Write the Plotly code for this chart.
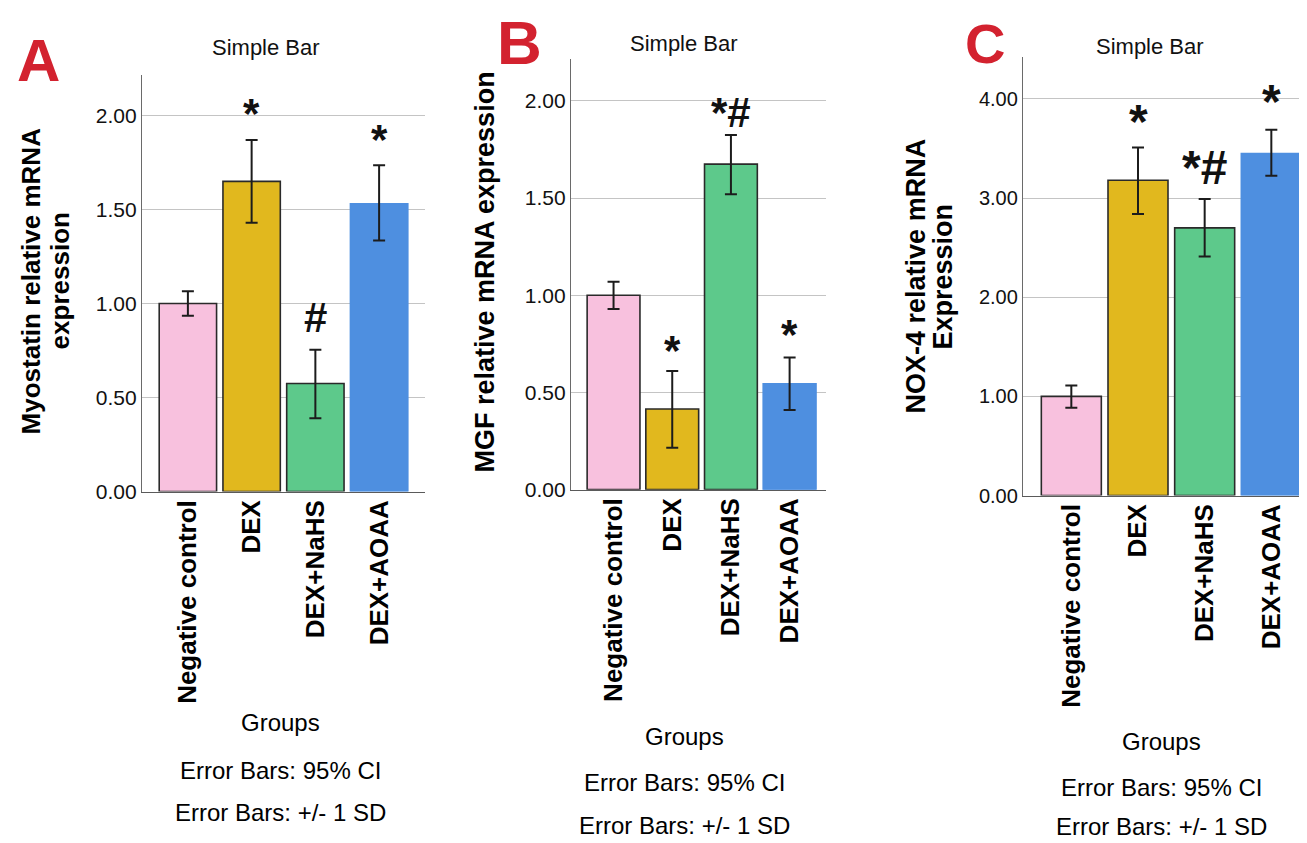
import plotly.graph_objects as go

W, H = 1307, 843

groups = ["Negative control", "DEX", "DEX+NaHS", "DEX+AOAA"]
bar_colors = ["#f8c1de", "#e1b81e", "#5dc98b", "#4e8fe0"]
edge_colors = ["#2a2a2a", "#2a2a2a", "#2a2a2a", "#4e8fe0"]

# Panel A: Myostatin
A_mean = [1.00, 1.65, 0.575, 1.53]
A_hi = [1.065, 1.87, 0.755, 1.735]
A_lo = [0.935, 1.43, 0.39, 1.335]
A_sig = ["", "*", "#", "*"]

# Panel B: MGF
B_mean = [1.00, 0.415, 1.675, 0.545]
B_hi = [1.07, 0.61, 1.825, 0.68]
B_lo = [0.93, 0.215, 1.52, 0.41]
B_sig = ["", "*", "*#", "*"]

# Panel C: NOX-4
C_mean = [1.00, 3.18, 2.70, 3.45]
C_hi = [1.11, 3.51, 2.99, 3.69]
C_lo = [0.885, 2.84, 2.41, 3.225]
C_sig = ["", "*", "*#", "*"]

panels = [
    dict(mean=A_mean, hi=A_hi, lo=A_lo, sig=A_sig, letter="A",
         ytitles=[("Myostatin relative mRNA", 23), ("expression", 52)], ytitle_y=277,
         ytitle_size=26,
         xpx=(134, 417), ypx=(68, 490), yrange=[0, 2.215], dtick=0.5,
         xrange=[-0.72, 3.72], tfs=21, sig_size=42, sig_shift=[0, 1, 7, 0],
         title_xy=(258, 40), letter_xy=(31, 53), letter_size=60,
         groups_y=724, ci_y=773, sd_y=815, foot_x=272),
    dict(mean=B_mean, hi=B_hi, lo=B_lo, sig=B_sig, letter="B",
         ytitles=[("MGF relative mRNA expression", 477)], ytitle_y=268,
         ytitle_size=27,
         xpx=(563, 818), ypx=(52, 488), yrange=[0, 2.214], dtick=0.5,
         xrange=[-0.725, 3.62], tfs=21, sig_size=42, sig_shift=[0, -5, -3, -3],
         title_xy=(676, 36), letter_xy=(511, 35), letter_size=62,
         groups_y=738, ci_y=785, sd_y=828, foot_x=676),
    dict(mean=C_mean, hi=C_hi, lo=C_lo, sig=C_sig, letter="C",
         ytitles=[("NOX-4 relative mRNA", 908), ("Expression", 935)], ytitle_y=272,
         ytitle_size=27,
         xpx=(1015, 1307), ypx=(50, 494), yrange=[0, 4.42], dtick=1.0,
         xrange=[-0.725, 3.655], tfs=20, sig_size=48, sig_shift=[0, -2, 3, 0],
         title_xy=(1142, 39), letter_xy=(977, 36), letter_size=56,
         groups_y=743, ci_y=790, sd_y=829, foot_x=1153),
]

FONT = "Liberation Sans, Arial, sans-serif"

fig = go.Figure()
annotations = []
layout = {}


def pa(x, y, text, size, weight="normal", color="#111", angle=0):
    annotations.append(dict(
        x=x / W, y=1 - y / H, xref="paper", yref="paper", text=text,
        showarrow=False, xanchor="center", yanchor="middle", textangle=angle,
        font=dict(family=FONT, size=size, color=color, weight=weight),
    ))


for i, p in enumerate(panels):
    n = "" if i == 0 else str(i + 1)
    xa, ya = "x" + n, "y" + n
    plus = [h - m for h, m in zip(p["hi"], p["mean"])]
    minus = [m - l for m, l in zip(p["mean"], p["lo"])]
    fig.add_trace(go.Bar(
        x=groups, y=p["mean"], xaxis=xa, yaxis=ya, width=0.9,
        marker=dict(color=bar_colors, line=dict(color=edge_colors, width=1.6)),
        error_y=dict(type="data", symmetric=False, array=plus, arrayminus=minus,
                     color="#1c1c1c", thickness=2, width=6),
        hoverinfo="skip",
    ))
    x0, x1 = p["xpx"]
    yt, yb = p["ypx"]
    layout["xaxis" + n] = dict(
        domain=[x0 / W, min(x1 / W, 1)], anchor=ya, range=p["xrange"],
        type="category", tickangle=-90, showgrid=False, zeroline=False,
        showline=True, linecolor="#5a5a5a", linewidth=1.3, ticks="",
        ticklabelstandoff=-3,
        tickfont=dict(family=FONT, size=26, color="#000", weight="bold"),
    )
    layout["yaxis" + n] = dict(
        domain=[1 - yb / H, 1 - yt / H], anchor=xa, range=p["yrange"],
        dtick=p["dtick"], tick0=0, tickformat=".2f", showgrid=True,
        gridcolor="#c4c4c4", gridwidth=1.2, zeroline=False,
        showline=True, linecolor="#6a6a6a", linewidth=1.3, ticks="",
        tickfont=dict(family=FONT, size=p["tfs"], color="#111"),
    )
    # significance marks
    for g, h, s, sh in zip(groups, p["hi"], p["sig"], p["sig_shift"]):
        if s:
            annotations.append(dict(
                x=g, y=h, xref=xa, yref=ya, text=s, showarrow=False,
                yanchor="bottom", xanchor="center", yshift=sh,
                font=dict(family=FONT, size=p["sig_size"], color="#111", weight="bold"),
            ))
    pa(*p["title_xy"], "Simple Bar", 22)
    pa(*p["letter_xy"], p["letter"], p["letter_size"], "bold", "#d3222f")
    for txt, xx in p["ytitles"]:
        pa(xx, p["ytitle_y"], txt, p["ytitle_size"], "bold", "#000", -90)
    pa(p["foot_x"], p["groups_y"], "Groups", 24, color="#000")
    pa(p["foot_x"], p["ci_y"], "Error Bars: 95% CI", 24, color="#000")
    pa(p["foot_x"], p["sd_y"], "Error Bars: +/- 1 SD", 24, color="#000")

fig.update_layout(
    width=W, height=H, margin=dict(l=0, r=0, t=0, b=0),
    paper_bgcolor="white", plot_bgcolor="white", showlegend=False,
    annotations=annotations, **layout,
)
fig.write_html("out.html")
